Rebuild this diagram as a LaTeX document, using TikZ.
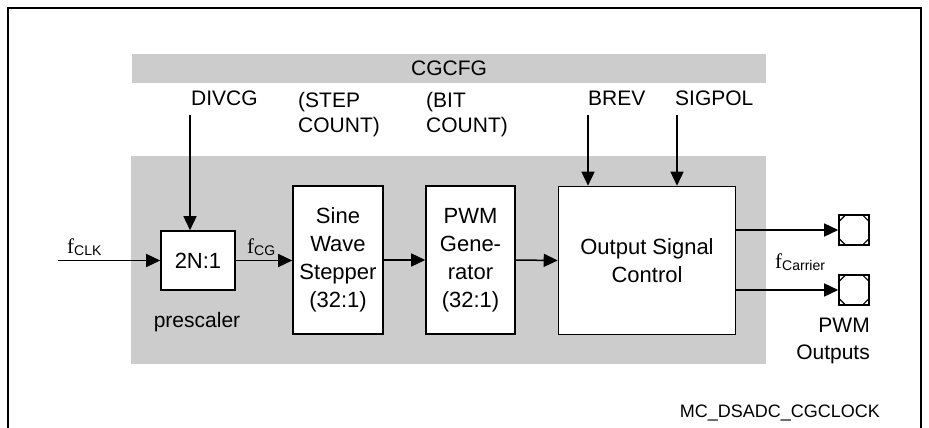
\documentclass[tikz,border=0pt]{standalone}
\usepackage{fontspec}
\setmainfont{Liberation Sans}
\newfontfamily\tnr{Liberation Serif}
\usetikzlibrary{arrows.meta,calc}
\definecolor{bggray}{RGB}{204,204,204}
\tikzset{
  box/.style={draw=black, line width=1.6pt, fill=white, align=center, inner sep=0pt,
    font=\fontsize{22}{28}\selectfont},
  lbl/.style={inner sep=0pt, font=\fontsize{21}{25}\selectfont},
  arr/.style={line width=1.5pt, -{Triangle[length=14pt,width=13pt]}},
  padbox/.style={draw=black, line width=1.6pt, fill=white, minimum size=30pt, inner sep=0pt},
}
\newcommand{\fsub}[1]{{\tnr\fontsize{21}{21}\selectfont f}\raisebox{-2pt}{\fontsize{14}{14}\selectfont #1}}
\begin{document}
\begin{tikzpicture}[x=1pt,y=-1pt]
\useasboundingbox (0,0) rectangle (929,428);
% frame (open at bottom)
\draw[line width=2pt] (8,430) -- (8,8) -- (921,8) -- (921,430);
% CGCFG bar
\fill[bggray] (132,54) rectangle (766,83);
\node[lbl, anchor=base] (cgcfg) at (449,75) {CGCFG};
% main gray area
\fill[bggray] (131,156) rectangle (766,364);
% blocks
\node[box, minimum width=74pt, minimum height=59pt] (pre) at (198,260.5) {2N:1};
\node[box, minimum width=90pt, minimum height=148pt] (sine) at (338,260) {Sine\\Wave\\Stepper\\(32:1)};
\node[box, minimum width=89pt, minimum height=148pt] (pwm) at (470.5,260) {PWM\\Gene-\\rator\\(32:1)};
\node[box, minimum width=177pt, minimum height=148pt] (osc) at (647,260.5) {Output Signal\\Control};
% pads
\node[padbox] (pad1) at (854,230) {};
\node[padbox] (pad2) at (854,290) {};
\foreach \p in {pad1,pad2}{
  \draw[line width=1.2pt] ($(\p.north west)+(0,8)$) -- ($(\p.north west)+(8,0)$);
  \draw[line width=1.2pt] ($(\p.north east)+(0,8)$) -- ($(\p.north east)+(-8,0)$);
  \draw[line width=1.2pt] ($(\p.south west)+(0,-8)$) -- ($(\p.south west)+(8,0)$);
  \draw[line width=1.2pt] ($(\p.south east)+(0,-8)$) -- ($(\p.south east)+(-8,0)$);
}
% labels
\node[lbl, anchor=base west] (divcg) at (191,106) {DIVCG};
\node[lbl, anchor=north west, align=left] (step) at (298,92) {(STEP\\COUNT)};
\node[lbl, anchor=north west, align=left] (bit) at (426,92) {(BIT\\COUNT)};
\node[lbl, anchor=base west] (brev) at (588,106) {BREV};
\node[lbl, anchor=base west] (sigpol) at (675,106) {SIGPOL};
\node[lbl, anchor=center] (presc) at (197,322) {prescaler};
\node[inner sep=0pt, anchor=base west] (fclk) at (67,253) {\fsub{CLK}};
\node[inner sep=0pt, anchor=base west] (fcg) at (247,253) {\fsub{CG}};
\node[inner sep=0pt, anchor=base west] (fcar) at (775,268) {\fsub{Carrier}};
\node[lbl, anchor=north east, align=right, font=\fontsize{21}{27}\selectfont] (pwmout) at (870,318) {PWM\\Outputs};
\node[inner sep=0pt, anchor=base east, font=\fontsize{18}{18}\selectfont] (mcname) at (880,417) {MC\_DSADC\_CGCLOCK};
% arrow sources
\coordinate (clkin) at (58,260.5);
\coordinate (divs) at (190,115);
\coordinate (brevs) at (588,115);
\coordinate (sigs) at (677,115);
% connectors
\draw[arr] (clkin) -- (pre.west);
\draw[arr] (divs) -- (divs |- pre.north);
\draw[arr] (pre.east) -- (sine.west |- pre.east);
\draw[arr] (sine.east) -- (pwm.west);
\draw[arr] (pwm.east) -- (osc.west);
\draw[arr] (brevs) -- (brevs |- osc.north);
\draw[arr] (sigs) -- (sigs |- osc.north);
\draw[arr] (osc.east |- pad1.west) -- (pad1.west);
\draw[arr] (osc.east |- pad2.west) -- (pad2.west);
\end{tikzpicture}
\end{document}
